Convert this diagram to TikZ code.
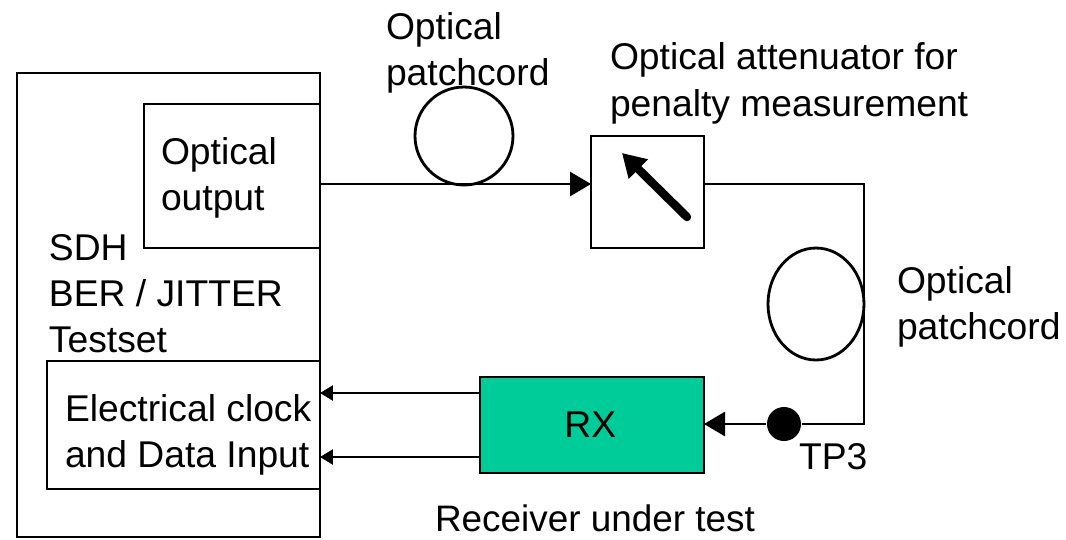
\documentclass[tikz,border=0pt]{standalone}
\usepackage{fontspec}
\setmainfont{Liberation Sans}
\usetikzlibrary{arrows.meta, positioning, shapes.geometric}

\begin{document}
\begin{tikzpicture}[x=0.02cm, y=-0.02cm, >={Triangle[length=0.42cm, width=0.48cm]},
    line width=1.6pt, line join=miter,
    unit/.style={draw, inner sep=0pt, outer sep=0pt},
    small/.style={-{Triangle[length=0.26cm, width=0.3cm]}},
    lbl/.style={inner sep=0pt, outer sep=0pt, anchor=north west, align=left,
                font=\fontsize{21.2}{26.2}\selectfont}]
  \useasboundingbox (0,0) rectangle (1066,539);

  % test set and its two ports
  \node[unit, minimum width=6.06cm, minimum height=9.28cm] (testset) at (168.5,305) {};
  \node[unit, minimum width=3.52cm, minimum height=2.88cm] (output) at (232,176) {};
  \node[unit, minimum width=5.46cm, minimum height=2.56cm] (input) at (183.5,425) {};

  % attenuator and receiver
  \node[unit, minimum width=2.26cm, minimum height=2.24cm] (atten) at (647.5,192) {};
  \node[unit, fill={rgb,255:red,0;green,204;blue,153}, minimum width=4.48cm,
        minimum height=1.92cm, font=\fontsize{21.2}{26.2}\selectfont] (rx) at (592,425) {\kern-2pt RX};

  % patchcord loops
  \node[unit, circle, minimum size=1.96cm] (loopa) at (464,136) {};
  \node[unit, ellipse, minimum width=1.92cm, minimum height=2.24cm] (loopb) at (816,304) {};

  % corners and tap points
  \coordinate (outtap) at (320,184);
  \coordinate (attentap) at (704,184);
  \coordinate (cornera) at (864,184);
  \coordinate (cornerb) at (864,424);
  \coordinate (rxtap) at (704,424);
  \coordinate (rxclk) at (480,393);
  \coordinate (rxdata) at (480,457);
  \coordinate (inclk) at (320,393);
  \coordinate (indata) at (320,457);
  \node[circle, fill=black, inner sep=0pt, minimum size=0.68cm] (tp) at (784,424) {};

  % links
  \draw[->] (outtap) -- (atten.west |- outtap);
  \draw (attentap) -- (cornera) -- (cornerb) -- (tp);
  \draw[->] (tp) -- (rxtap);
  \draw[small] (rxclk) -- (inclk);
  \draw[small] (rxdata) -- (indata);

  % attenuator pointer
  \coordinate (ptrtail) at (687,217);
  \coordinate (ptrtip) at (622,153);
  \draw[line width=4.8pt, line cap=round, -{Triangle[length=0.46cm, width=0.52cm]}] (ptrtail) -- (ptrtip);

  % Labels
  \node[lbl] (lbla) at (386,12) {Optical\\patchcord};
  \node[lbl] (lblb) at (610,43) {Optical attenuator for\\penalty measurement};
  \node[lbl] (lblc) at (897,266) {Optical\\patchcord};
  \node[lbl] (lbld) at (161,137) {Optical\\output};
  \node[lbl] (lble) at (49,234) {SDH\\BER / JITTER\\Testset};
  \node[lbl] (lblf) at (65,394) {Electrical clock\\and Data Input};
  \node[lbl] (lblg) at (799,443) {TP3};
  \node[lbl, font=\fontsize{21}{26.2}\selectfont] (lblh) at (435,505) {Receiver under test};
\end{tikzpicture}
\end{document}
